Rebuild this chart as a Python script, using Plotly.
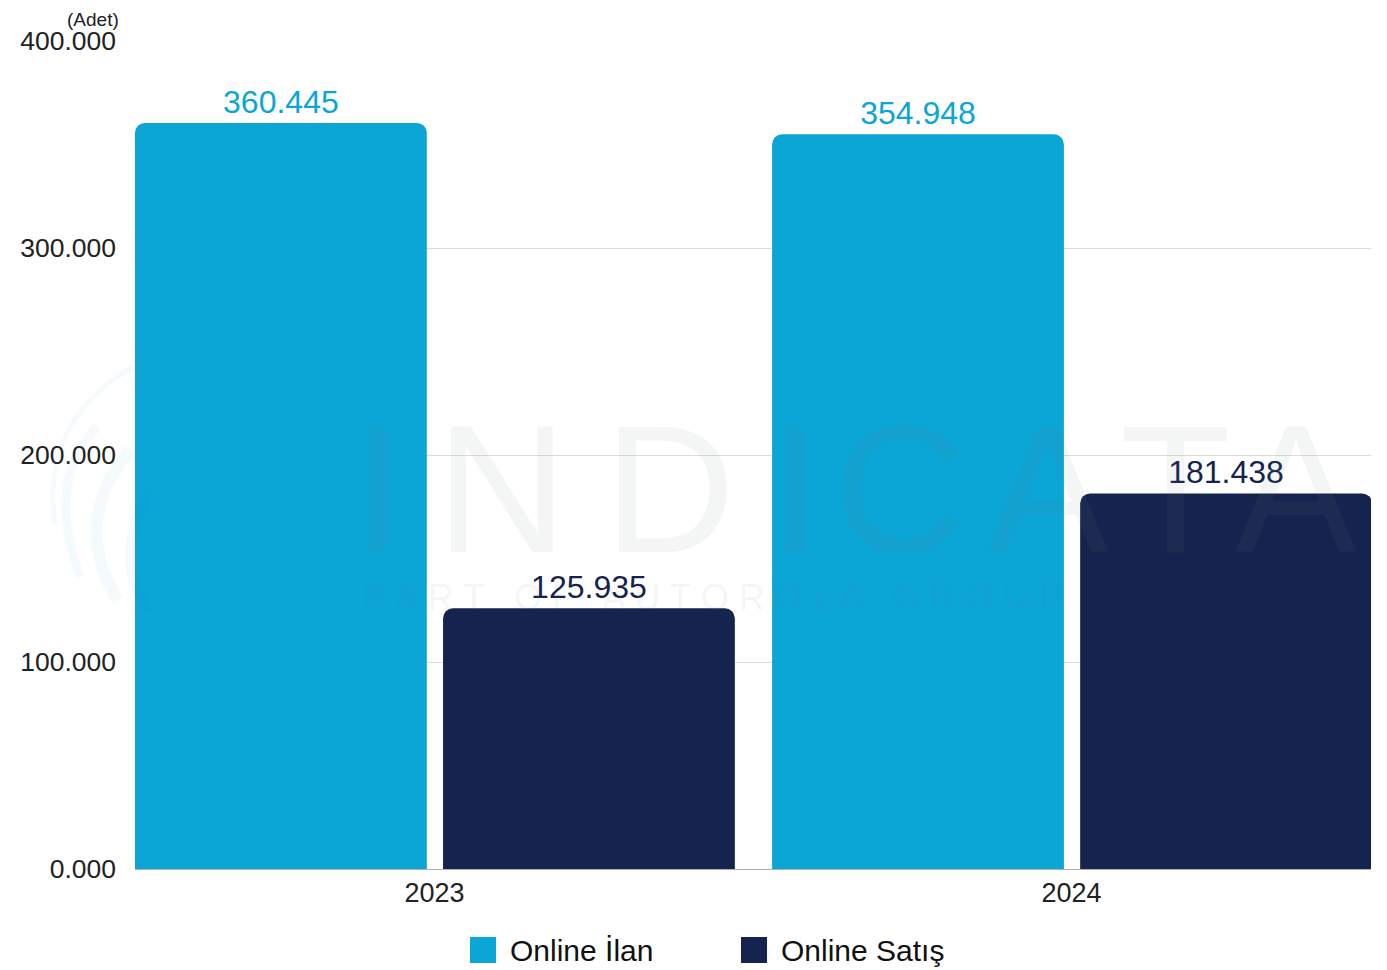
import plotly.graph_objects as go

years = ["2023", "2024"]
series_names = ["Online İlan", "Online Satış"]
online_ilan = [360445, 354948]
online_satis = [125935, 181438]
y_ticks = [0, 100000, 200000, 300000, 400000]
y_tick_labels = ["0.000", "100.000", "200.000", "300.000", "400.000"]

BLUE = "#0BA5D6"
NAVY = "#14244F"
FONT = "Liberation Sans, Arial, Helvetica, sans-serif"
WM = "rgba(110,125,125,0.08)"

# plot area in page pixels (page adds an 8px body offset)
PL, PR, PT, PB = 135, 1371, 41, 869


def px(xs):
    return (xs - PL) / (PR - PL)


def py(ys):
    return (PB - ys) / (PB - PT)


fig = go.Figure()

fig.add_trace(go.Bar(
    x=[0, 1], y=online_ilan, name=series_names[0],
    marker=dict(color=BLUE, line=dict(width=0), cornerradius=10),
    width=0.458, offset=-0.47,
    texttemplate="%{y:,.0f}", textposition="outside",
    textfont=dict(color=BLUE, size=32, family=FONT),
    cliponaxis=False,
))
fig.add_trace(go.Bar(
    x=[0, 1], y=online_satis, name=series_names[1],
    marker=dict(color=NAVY, line=dict(width=0), cornerradius=10),
    width=0.458, offset=0.0135,
    texttemplate="%{y:,.0f}", textposition="outside",
    textfont=dict(color=NAVY, size=32, family=FONT),
    cliponaxis=False,
))

annotations = []
shapes = []

# faint INDICATA watermark
wm_letters = list("INDICATA")
wm_x = [378, 501, 669, 795, 900, 1048, 1175, 1296]
for ch, xs in zip(wm_letters, wm_x):
    annotations.append(dict(
        text=ch, x=px(xs), y=py(486) - 0.004, xref="paper", yref="paper",
        xanchor="center", yanchor="middle", showarrow=False,
        font=dict(size=182, color=WM, family=FONT),
    ))
annotations.append(dict(
    text="P A R T   O F   A U T O R O L A   G R O U P", x=px(362), y=py(597),
    xref="paper", yref="paper", xanchor="left", yanchor="middle", showarrow=False,
    font=dict(size=36, color=WM, family=FONT),
))

# faint logo swirl
swirl = [
    ((133, 367), (40, 420), (55, 525), 5),
    ((97, 427), (45, 480), (80, 577), 9),
    ((130, 450), (70, 520), (117, 600), 12),
    ((150, 490), (110, 560), (150, 612), 10),
]
for (x0, y0), (cx, cy), (x1, y1), w in swirl:
    shapes.append(dict(
        type="path", xref="paper", yref="paper", layer="above",
        path=f"M {px(x0)},{py(y0)} Q {px(cx)},{py(cy)} {px(x1)},{py(y1)}",
        line=dict(color="rgba(11,140,210,0.04)", width=w),
    ))

# axis unit label
annotations.append(dict(
    text="(Adet)", x=px(120), y=py(8), xref="paper", yref="paper",
    xanchor="right", yanchor="top", showarrow=False, borderpad=0,
    font=dict(size=19, color="#222222", family=FONT),
))

# custom legend with large square swatches
legend_x = [470, 741]
legend_colors = [BLUE, NAVY]
for name, xs, col in zip(series_names, legend_x, legend_colors):
    shapes.append(dict(
        type="rect", xref="paper", yref="paper",
        x0=px(xs), x1=px(xs + 26), y0=py(963), y1=py(937),
        fillcolor=col, line=dict(width=0),
    ))
    annotations.append(dict(
        text=name, x=px(xs + 38), y=py(950), xref="paper", yref="paper",
        xanchor="left", yanchor="middle", showarrow=False,
        font=dict(size=30, color="#111111", family=FONT),
    ))

fig.update_layout(
    width=1371, height=962,
    margin=dict(l=127, r=8, t=33, b=101),
    plot_bgcolor="white", paper_bgcolor="white",
    separators=",.",
    showlegend=False,
    barmode="group",
    font=dict(family=FONT, color="#222222"),
    annotations=annotations,
    shapes=shapes,
)
fig.update_xaxes(
    range=[-0.47, 1.47], tickvals=[0, 1], ticktext=years,
    showgrid=False, zeroline=False,
    showline=True, linecolor="#b0b0b0", linewidth=1,
    ticks="", tickfont=dict(size=27, color="#222222"),
)
fig.update_yaxes(
    range=[0, 400000], tickvals=y_ticks, ticktext=y_tick_labels,
    showgrid=True, gridcolor="#dcdcdc", gridwidth=1,
    zeroline=False, showline=False, ticks="",
    tickfont=dict(size=26.5, color="#222222"), ticklabelstandoff=18,
)

fig.write_html("out.html")
